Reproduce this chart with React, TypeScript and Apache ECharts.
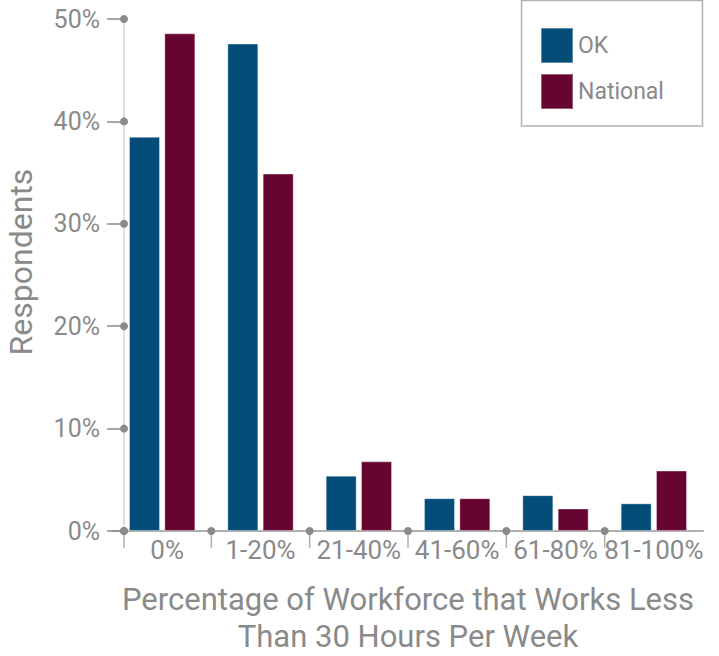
import React, { useEffect, useRef } from "react";
import * as echarts from "echarts";

const categories = ["0%", "1-20%", "21-40%", "41-60%", "61-80%", "81-100%"];
const okValues = [38.5, 47.6, 5.4, 3.2, 3.5, 2.7];
const nationalValues = [48.6, 34.9, 6.8, 3.2, 2.2, 5.9];
const yTicks = [0, 10, 20, 30, 40, 50];
const seriesNames = ["OK", "National"];

const FONT = "Roboto, 'Noto Sans', sans-serif";
const GRAY = "#8a8a8a";
const LINE = "#b0b0b0";
const Y_SHIFT = 11;

export default function App() {
  const ref = useRef<HTMLDivElement>(null);
  useEffect(() => {
    if (!ref.current) return;
    const chart = echarts.init(ref.current, null, { renderer: "svg" });
    chart.setOption({
      animation: false,
      backgroundColor: "#ffffff",
      grid: {
        left: 113,
        right: 16,
        top: 19,
        bottom: 125,
        containLabel: false,
        outerBoundsMode: "none",
      },
      legend: {
        data: seriesNames,
        orient: "vertical",
        left: 540,
        top: 27,
        padding: 0,
        itemWidth: 32,
        itemHeight: 35,
        itemGap: 9,
        icon: "rect",
        textStyle: { fontFamily: FONT, fontSize: 23, color: GRAY },
      },
      graphic: [
        {
          type: "rect",
          shape: { x: 521.5, y: 0.5, width: 181, height: 125.5 },
          style: { fill: "none", stroke: "#b3b3b3", lineWidth: 1.5 },
          silent: true,
        },
        {
          type: "text",
          x: 21,
          y: 262,
          rotation: Math.PI / 2,
          style: {
            text: "Respondents",
            fontFamily: FONT,
            fontSize: 32,
            fill: GRAY,
            textAlign: "center",
            textVerticalAlign: "middle",
          },
          silent: true,
        },
      ],
      xAxis: {
        type: "category",
        data: categories,
        boundaryGap: true,
        name: "Percentage of Workforce that Works Less\nThan 30 Hours Per Week",
        nameLocation: "middle",
        nameGap: 50,
        nameTextStyle: {
          fontFamily: FONT,
          fontSize: 31,
          lineHeight: 37,
          color: GRAY,
          verticalAlign: "top",
        },
        axisLine: { lineStyle: { color: LINE, width: 2 } },
        axisTick: { show: false },
        axisLabel: {
          interval: 0,
          hideOverlap: false,
          fontFamily: FONT,
          fontSize: 26,
          color: GRAY,
          margin: 6,
          formatter: (v: string, i: number) => (i === 0 ? "{a|" + v + "}" : v),
          rich: {
            a: { fontFamily: FONT, fontSize: 26, color: GRAY, padding: [0, 0, 0, 10] },
          },
        },
      },
      yAxis: {
        type: "value",
        min: 0,
        max: 50,
        interval: 10,
        offset: -Y_SHIFT,
        axisLine: { show: true, lineStyle: { color: "#d6d6d6", width: 1.5 } },
        axisTick: { show: true, length: 17, lineStyle: { color: GRAY, width: 1.5 } },
        splitLine: { show: false },
        axisLabel: {
          fontFamily: FONT,
          fontSize: 25,
          color: GRAY,
          margin: 24,
          formatter: "{value}%",
        },
      },
      series: [
        {
          name: "OK",
          type: "bar",
          data: okValues,
          barWidth: 31,
          barGap: "14%",
          itemStyle: { color: "#044d78", borderColor: "rgba(255,255,255,0.35)", borderWidth: 1 },
        },
        {
          name: "National",
          type: "bar",
          data: nationalValues,
          barWidth: 31,
          barGap: "14%",
          itemStyle: { color: "#660530", borderColor: "rgba(255,255,255,0.35)", borderWidth: 1 },
        },
        {
          type: "custom",
          silent: true,
          z: 10,
          clip: false,
          data: [[0, 0]],
          renderItem: (params: any, api: any) => {
            const cs = params.coordSys;
            const axisX = cs.x + Y_SHIFT;
            const baseY = api.coord([0, 0])[1];
            const band = api.size([1, 0])[0];
            const children: any[] = [];
            yTicks.forEach((v) => {
              const y = api.coord([0, v])[1];
              children.push({
                type: "circle",
                shape: { cx: axisX, cy: y, r: 4 },
                style: { fill: GRAY },
              });
            });
            categories.forEach((_c, k) => {
              const x = k === 0 ? axisX : api.coord([k, 0])[0] - band / 2;
              children.push({
                type: "line",
                shape: { x1: x, y1: baseY, x2: x, y2: baseY + 17 },
                style: { stroke: LINE, lineWidth: 1.5 },
              });
              children.push({
                type: "circle",
                shape: { cx: x, cy: baseY, r: 4 },
                style: { fill: GRAY },
              });
            });
            return { type: "group", children };
          },
        },
      ],
    });
    return () => chart.dispose();
  }, []);
  return (
    <div
      ref={ref}
      style={{ position: "fixed", left: 0, top: 0, width: 719, height: 656 }}
    />
  );
}
